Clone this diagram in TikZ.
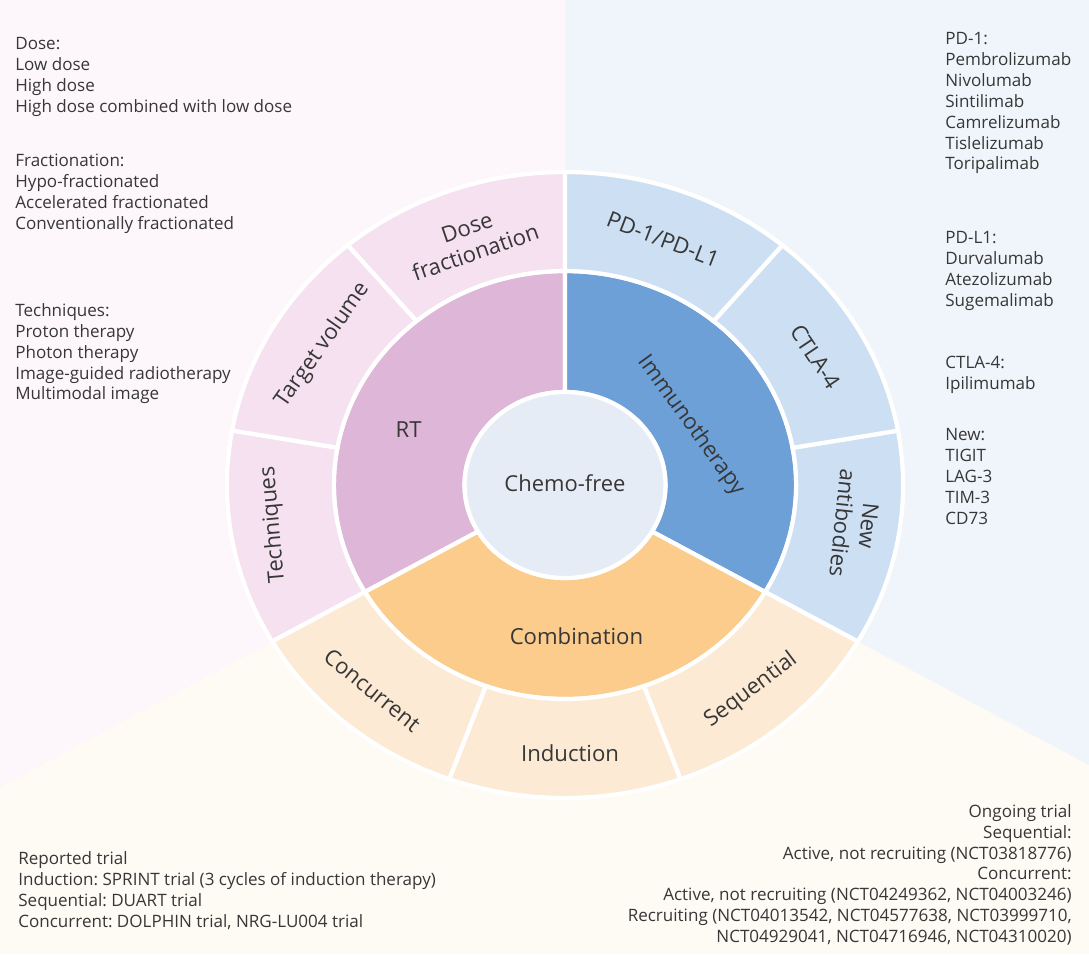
\documentclass[tikz,border=0pt]{standalone}
\usepackage{fontspec}
\setmainfont{Open Sans}
\usepackage{tikz}
\usepackage{xcolor}
\frenchspacing
\definecolor{rtBg}{RGB}{253,246,250}
\definecolor{imBg}{RGB}{240,245,251}
\definecolor{coBg}{RGB}{254,250,244}
\definecolor{rtMid}{RGB}{222,183,216}
\definecolor{rtOut}{RGB}{245,225,240}
\definecolor{imMid}{RGB}{109,160,214}
\definecolor{imOut}{RGB}{204,223,243}
\definecolor{coMid}{RGB}{251,204,140}
\definecolor{coOut}{RGB}{252,234,212}
\definecolor{hubFill}{RGB}{230,236,245}
\definecolor{txtGray}{RGB}{55,55,55}

\begin{document}
\begin{tikzpicture}[x=0.02cm, y=-0.02cm,
  txt/.style={font=\fontsize{9.7}{11.9}\selectfont, text=txtGray, align=left, inner sep=0pt},
  seg/.style={draw=white, line width=2.4pt},
  lbl/.style={font=\fontsize{12.6}{15}\selectfont, text=txtGray, align=center, inner sep=1pt}]
  \useasboundingbox (0,0) rectangle (1089,954);
  % background thirds
  \fill[coBg] (0,0) rectangle (1089,954);
  \fill[rtBg] (0,0) -- (565,0) -- (565,485) -- (0,787) -- cycle;
  \fill[imBg] (565,0) -- (1089,0) -- (1089,765) -- (565,485) -- cycle;

  \begin{scope}[shift={(565,485)}, x=0.0216cm, y=0.02cm]
    % inner ring
    \foreach \a/\b/\c in {90/210/rtMid, -30/90/imMid, 210/330/coMid}
      \filldraw[seg, fill=\c] (\a:93) -- (\a:214) arc[start angle=\a, end angle=\b, radius=214]
        -- (\b:93) arc[start angle=\b, end angle=\a, radius=93] -- cycle;
    % outer ring
    \foreach \a/\c [evaluate=\a as \b using \a+40] in {90/rtOut, 130/rtOut, 170/rtOut,
        -30/imOut, 10/imOut, 50/imOut, 210/coOut, 250/coOut, 290/coOut}
      \filldraw[seg, fill=\c] (\a:214) -- (\a:313) arc[start angle=\a, end angle=\b, radius=313]
        -- (\b:214) arc[start angle=\b, end angle=\a, radius=214] -- cycle;
    \filldraw[seg, fill=hubFill] (0,0) circle[radius=93];

    \node[lbl, font=\fontsize{12.5}{15}\selectfont] (chemo) at (0,2) {Chemo-free};
    \node[lbl] (rt) at (159:155) {RT};
    \node[lbl, rotate=-54] (immuno) at (27:131) {Immunotherapy};
    \node[lbl] (combo) at (274:152) {Combination};

    \node[lbl, rotate=19] (dosefrac) at (109.5:260) {Dose\\fractionation};
    \node[lbl, rotate=55] (target) at (148:264) {Target volume};
    \node[lbl, rotate=95] (techn) at (188.4:273) {Techniques};
    \node[lbl, rotate=-21] (pdone) at (69.7:262) {PD-1/PD-L1};
    \node[lbl, rotate=-56] (ctla) at (28.9:265) {CTLA-4};
    \node[lbl, rotate=-96] (newab) at (-8.3:272) {New\\antibodies};
    \node[lbl, rotate=-39] (concur) at (229:272) {Concurrent};
    \node[lbl] (induct) at (271:268) {Induction};
    \node[lbl, rotate=37] (sequ) at (310:268) {Sequential};
  \end{scope}

  % RT notes
  \node[txt, anchor=north west] (doselist) at (15,37) {Dose:\\Low dose\\High dose\\High dose combined with low dose};
  \node[txt, anchor=north west] (fraclist) at (15,154) {Fractionation:\\Hypo-fractionated\\Accelerated fractionated\\Conventionally fractionated};
  \node[txt, anchor=north west] (techlist) at (15,303) {Techniques:\\Proton therapy\\Photon therapy\\Image-guided radiotherapy\\Multimodal image};
  % immunotherapy notes
  \node[txt, anchor=north west] (pdonelist) at (945,32) {PD-1:\\Pembrolizumab\\Nivolumab\\Sintilimab\\Camrelizumab\\Tislelizumab\\Toripalimab};
  \node[txt, anchor=north west] (pdlonelist) at (945,231) {PD-L1:\\Durvalumab\\Atezolizumab\\Sugemalimab};
  \node[txt, anchor=north west] (ctlalist) at (945,356) {CTLA-4:\\Ipilimumab};
  \node[txt, anchor=north west] (newlist) at (945,428) {New:\\TIGIT\\LAG-3\\TIM-3\\CD73};
  % trial notes
  \node[txt, anchor=north west] (reported) at (18,851) {Reported trial\\Induction: SPRINT trial (3 cycles of induction therapy)\\Sequential: DUART trial\\Concurrent: DOLPHIN trial, NRG-LU004 trial};
  \node[txt, anchor=north east, align=right] (ongoing) at (1072,804) {Ongoing trial\\Sequential:\\Active, not recruiting (NCT03818776)};
  \node[txt, anchor=north east, align=right] (concurlist) at (1072,867) {Concurrent:\\Active, not recruiting (NCT04249362, NCT04003246)\\Recruiting (NCT04013542, NCT04577638, NCT03999710,\\NCT04929041, NCT04716946, NCT04310020)};
\end{tikzpicture}
\end{document}
